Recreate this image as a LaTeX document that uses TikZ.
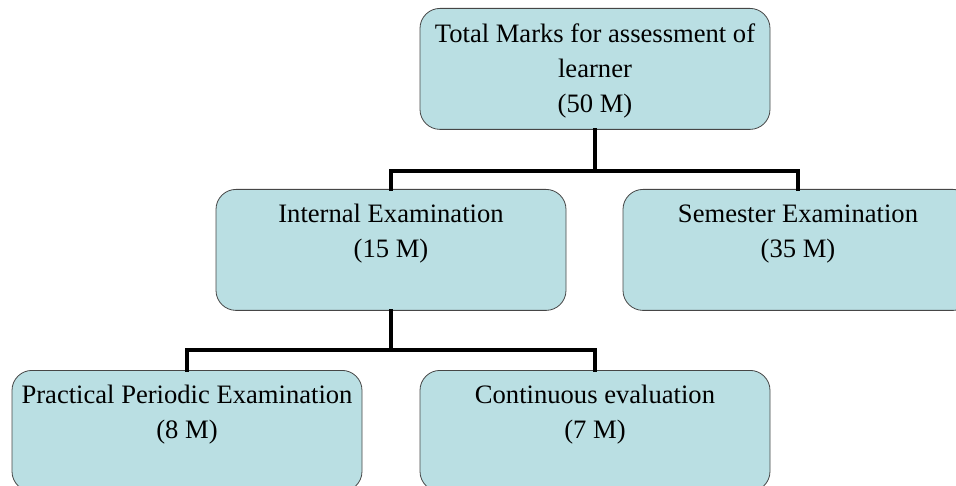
\documentclass[tikz,border=0pt]{standalone}
\usepackage{fontspec}
\setmainfont{Liberation Serif}
\definecolor{boxfill}{RGB}{186,223,227}
\definecolor{boxline}{RGB}{70,70,70}
\begin{document}
\begin{tikzpicture}[x=1pt,y=-1pt,
    box/.style={draw=boxline,fill=boxfill,line width=0.8pt,rounded corners=20pt,
      align=center,anchor=north,inner sep=0pt,minimum width=350pt,
      font=\fontsize{26.6}{35}\selectfont},
    link/.style={line width=4.5pt,line cap=rect}]
    \useasboundingbox (0,0) rectangle (956,486);
    \clip (0,0) rectangle (956,486);
    % marks
    \node[box,text height=104pt,text depth=17pt] (total) at (595,8)
        {Total Marks for assessment of\\learner\\(50 M)};
    \node[box,text height=68pt,text depth=53pt] (internal) at (391,189)
        {Internal Examination\\(15 M)};
    \node[box,text height=68pt,text depth=53pt] (semester) at (798,189)
        {Semester Examination\\(35 M)};
    \node[box,text height=68pt,text depth=53pt] (practical) at (187,370)
        {Practical Periodic Examination\\(8 M)};
    \node[box,text height=68pt,text depth=53pt] (continuous) at (595,370)
        {Continuous evaluation\\(7 M)};
    % links
    \draw[link] (total.south) -- ++(0,41) -| (internal.north);
    \draw[link] (total.south) -- ++(0,41) -| (semester.north);
    \draw[link] (internal.south) -- ++(0,39) -| (practical.north);
    \draw[link] (internal.south) -- ++(0,39) -| (continuous.north);
\end{tikzpicture}
\end{document}
